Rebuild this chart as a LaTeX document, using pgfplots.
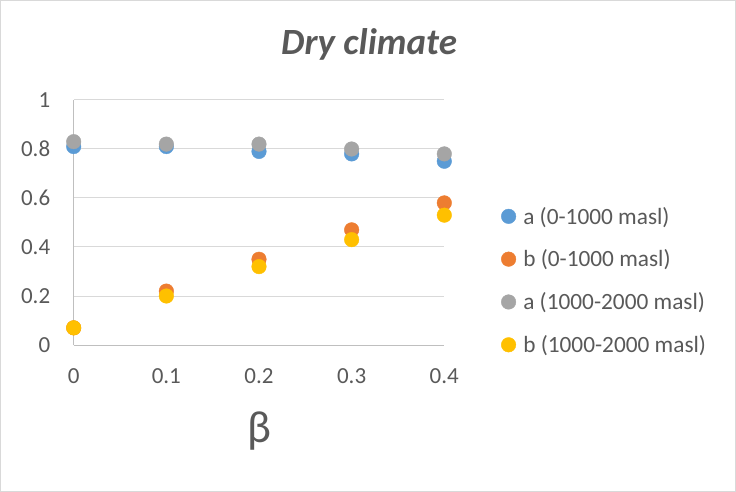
\documentclass[border=0pt]{standalone}
\usepackage{pgfplots}
\pgfplotsset{compat=1.18}
\usepackage{fontspec}
\setmainfont{Carlito}
\definecolor{sblue}{HTML}{5B9BD5}
\definecolor{sorange}{HTML}{ED7D31}
\definecolor{sgray}{HTML}{A5A5A5}
\definecolor{syellow}{HTML}{FFC000}
\definecolor{txt}{HTML}{595959}
\definecolor{grd}{HTML}{D9D9D9}
\definecolor{axl}{HTML}{BFBFBF}
\begin{document}
\begin{tikzpicture}
\useasboundingbox (-73.7bp,-147bp) rectangle (662.3bp,345bp);
\draw[color=grd, line width=1bp] (-72.7bp,-146bp) rectangle (661.3bp,344bp);
\begin{axis}[
  at={(0,0)}, anchor=south west,
  scale only axis, width=370.6bp, height=245bp,
  xmin=0, xmax=0.4, ymin=0, ymax=1,
  xtick={0,0.1,0.2,0.3,0.4},
  ytick={0,0.2,0.4,0.6,0.8,1},
  xticklabels={0,0.1,0.2,0.3,0.4},
  yticklabels={0,0.2,0.4,0.6,0.8,1},
  axis lines=left,
  axis line style={-, color=axl, line width=1bp},
  ymajorgrids,
  grid style={color=grd, line width=1bp},
  major tick length=0pt,
  tick label style={font=\fontsize{23bp}{27bp}\selectfont, text=txt},
  yticklabel style={xshift=-20bp},
  xticklabel style={yshift=-20bp},
  xlabel={β},
  xlabel style={at={(0.5,0)}, anchor=center, yshift=-86bp, font=\fontsize{45bp}{50bp}\selectfont, text=txt},
  title={\textbf{\textit{Dry climate}}},
  title style={at={(0.797,1)}, anchor=center, yshift=50bp, font=\fontsize{37bp}{42bp}\selectfont, text=txt},
  legend style={at={(1.1527,0.263)}, anchor=west, draw=none, fill=none,
    font=\fontsize{23.3bp}{27bp}\selectfont, text=txt, row sep=20.3bp, inner sep=0pt},
  legend cell align=left,
  legend image code/.code={\draw[#1, mark size=7.3bp] plot coordinates {(0bp,0bp)}; \path (-7.3bp,0bp) (12.5bp,0bp);},
  clip=false,
]
\addplot[only marks, mark=*, mark size=7.3bp, mark options={fill=sblue, draw=sblue}] coordinates {(0,0.81) (0.1,0.81) (0.2,0.79) (0.3,0.78) (0.4,0.75)};
\addlegendentry{a (0-1000 masl)}
\addplot[only marks, mark=*, mark size=7.3bp, mark options={fill=sorange, draw=sorange}] coordinates {(0,0.07) (0.1,0.22) (0.2,0.35) (0.3,0.47) (0.4,0.58)};
\addlegendentry{b (0-1000 masl)}
\addplot[only marks, mark=*, mark size=7.3bp, mark options={fill=sgray, draw=sgray}] coordinates {(0,0.83) (0.1,0.82) (0.2,0.82) (0.3,0.80) (0.4,0.78)};
\addlegendentry{a (1000-2000 masl)}
\addplot[only marks, mark=*, mark size=7.3bp, mark options={fill=syellow, draw=syellow}] coordinates {(0,0.07) (0.1,0.20) (0.2,0.32) (0.3,0.43) (0.4,0.53)};
\addlegendentry{b (1000-2000 masl)}
\end{axis}
\end{tikzpicture}
\end{document}
